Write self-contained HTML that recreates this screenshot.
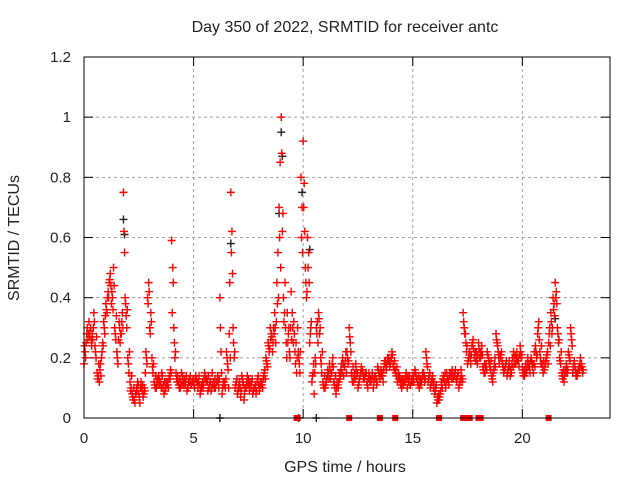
<!DOCTYPE html>
<html><head><meta charset="utf-8"><style>
body{margin:0;background:#fff}
svg text{font-family:"Liberation Sans",sans-serif;font-size:15px;fill:#222}
svg text.big{font-size:16px}
</style></head><body>
<svg id="chart" width="640" height="480" xmlns="http://www.w3.org/2000/svg">
<rect width="640" height="480" fill="#fff"/>
<text class="big" x="345" y="32" text-anchor="middle">Day 350 of 2022, SRMTID for receiver antc</text>
<text class="big" x="345" y="472" text-anchor="middle">GPS time / hours</text>
<text class="big" transform="translate(19,238) rotate(-90)" text-anchor="middle">SRMTID / TECUs</text>
<g id="grid"></g>
<g id="axes"></g>
<g id="marks"></g>
<rect x="84" y="57" width="526" height="361" fill="none" stroke="#000" stroke-width="1"/>
</svg>
<script>
const xTicks=[0,5,10,15,20];
const yTicks=[0,0.2,0.4,0.6,0.8,1,1.2];
const yTickLabels=["0","0.2","0.4","0.6","0.8","1","1.2"];
const mainValues=[.18,.25,.28,.30,.26,.24,.15,.12,.20,.32,
.38,.42,.48,.40,.30,.22,.32,.28,.75,.38,
.20,.12,.08,.06,.10,.08,.12,.07,.15,.40,
.30,.20,.12,.10,.14,.12,.10,.09,.12,.14,
.59,.30,.15,.12,.10,.14,.12,.09,.13,.11,
.12,.14,.10,.08,.12,.15,.13,.10,.09,.12,
.10,.14,.40,.08,.12,.22,.10,.75,.30,.10,
.08,.12,.14,.06,.10,.13,.11,.08,.10,.12,
.09,.12,.14,.20,.25,.30,.22,.35,.45,.70,
1.0,.40,.30,.25,.20,.35,.28,.15,.20,.80,
.92,.50,.60,.25,.12,.08,.30,.35,.20,.12,
.10,.14,.18,.15,.12,.08,.10,.14,.20,.17,
.22,.30,.15,.12,.18,.10,.14,.16,.13,.12,
.15,.12,.10,.14,.17,.13,.15,.18,.16,.20,
.19,.18,.16,.12,.14,.10,.13,.15,.12,.11,
.14,.16,.13,.10,.12,.15,.22,.12,.10,.14,
.08,.05,.06,.12,.14,.10,.13,.15,.16,.14,
.12,.10,.16,.35,.28,.18,.22,.24,.20,.22,
.25,.20,.17,.15,.22,.18,.14,.16,.28,.22,
.20,.18,.16,.14,.19,.15,.22,.18,.20,.24,
.17,.14,.16,.18,.20,.15,.24,.28,.22,.18,
.16,.20,.25,.35,.40,.45,.30,.20,.15,.12,
.18,.22,.30,.15,.17,.14,.16,.18];
const spreadValues=[.22,.30,.27,.24,.35,.20,.14,.18,.25,.28,
.35,.45,.38,.50,.26,.18,.25,.35,.55,.30,
.15,.10,.06,.08,.12,.05,.09,.10,.20,.45,
.35,.15,.10,.13,.11,.15,.08,.12,.10,.16,
.50,.20,.12,.10,.15,.11,.13,.10,.14,.12,
.10,.12,.14,.10,.11,.13,.09,.12,.15,.10,
.12,.10,.22,.12,.10,.18,.45,.62,.20,.12,
.10,.07,.12,.10,.14,.09,.12,.10,.08,.14,
.12,.10,.16,.18,.22,.28,.30,.25,.55,.85,
.62,.35,.20,.30,.42,.25,.18,.30,.15,.70,
.78,.40,.55,.30,.15,.20,.32,.28,.15,.10,
.12,.15,.13,.20,.10,.12,.15,.18,.14,.22,
.18,.25,.12,.15,.14,.12,.17,.13,.15,.10,
.12,.15,.13,.11,.15,.16,.12,.19,.20,.17,
.22,.16,.14,.15,.11,.13,.12,.10,.14,.13,
.12,.14,.11,.13,.15,.12,.18,.14,.12,.10,
.10,.06,.08,.10,.12,.15,.11,.14,.13,.16,
.14,.12,.12,.30,.22,.20,.18,.26,.22,.18,
.20,.24,.15,.18,.20,.16,.12,.20,.25,.18,
.22,.15,.18,.16,.14,.20,.18,.22,.17,.20,
.14,.18,.20,.15,.17,.22,.20,.32,.18,.15,
.18,.22,.30,.28,.38,.42,.25,.18,.13,.16,
.15,.20,.26,.18,.14,.16,.20,.15];
const thirdValues=[.24,.28,.32,.26,.30,.22,.13,.16,.22,.30,
.36,.40,.44,.36,.28,.20,.30,.32,.62,.34,
.18,.09,.07,.05,.09,.07,.10,.08,.22,.38,
.28,.17,.11,.12,.13,.10,.11,.10,.11,.13,
.35,.25,.13,.11,.12,.12,.11,.10,.12,.12,
.11,.13,.12,.09,.10,.14,.12,.11,.10,.11,
.11,.12,.30,.10,.11,.20,.28,.55,.25,.11,
.09,.10,.13,.08,.12,.11,.10,.09,.11,.13,
.10,.11,.15,.19,.24,.26,.25,.30,.38,.60,
.88,.32,.25,.28,.30,.30,.22,.20,.18,.60,
.70,.45,.50,.28,.14,.15,.28,.33,.18,.11,
.11,.16,.16,.18,.11,.10,.12,.16,.18,.19,
.20,.27,.14,.14,.16,.11,.15,.15,.14,.11,
.14,.13,.12,.13,.16,.15,.14,.19,.18,.19,
.20,.17,.15,.14,.12,.12,.12,.13,.13,.12,
.13,.15,.12,.12,.13,.14,.20,.13,.11,.12,
.09,.07,.07,.11,.13,.12,.12,.15,.15,.15,
.13,.11,.14,.32,.25,.19,.20,.25,.21,.20,
.23,.22,.16,.17,.21,.17,.13,.18,.26,.20,
.21,.17,.17,.15,.17,.18,.20,.20,.19,.22,
.15,.16,.18,.17,.19,.18,.22,.30,.20,.17,
.17,.21,.28,.32,.36,.40,.28,.19,.14,.14,
.17,.21,.28,.17,.16,.15,.18,.17];
const fourthValues=[.20,.26,.29,.28,.32,.27,.18,.14,.24,.34,
.40,.46,.42,.44,.34,.26,.28,.30,.40,.36,
.22,.14,.10,.08,.11,.10,.11,.09,.18,.42,
.32,.18,.14,.11,.12,.14,.12,.11,.13,.15,
.45,.22,.14,.13,.11,.13,.14,.12,.11,.13,
.13,.12,.11,.11,.13,.12,.14,.12,.11,.13,
.12,.13,.15,.11,.13,.16,.20,.48,.22,.13,
.11,.09,.11,.10,.11,.12,.13,.10,.09,.11,
.11,.13,.13,.17,.23,.27,.28,.32,.40,.50,
.68,.45,.35,.22,.26,.32,.25,.22,.22,.55,
.62,.42,.45,.32,.18,.18,.25,.30,.22,.14,
.13,.13,.15,.17,.14,.11,.13,.15,.17,.15,
.19,.22,.17,.13,.15,.13,.16,.14,.15,.13,
.13,.14,.14,.12,.14,.14,.16,.17,.19,.18,
.21,.19,.17,.13,.13,.11,.14,.14,.11,.12,
.15,.13,.14,.11,.14,.13,.17,.15,.13,.12,
.11,.08,.09,.13,.15,.13,.14,.13,.14,.13,
.15,.13,.13,.28,.24,.22,.21,.23,.19,.21,
.22,.21,.18,.16,.19,.19,.15,.17,.24,.21,
.19,.16,.19,.17,.16,.17,.21,.19,.21,.21,
.16,.15,.17,.19,.18,.17,.21,.26,.24,.19,
.19,.18,.24,.30,.34,.38,.26,.22,.16,.15,
.16,.19,.24,.19,.15,.17,.17,.16];
const blackTimes=[1.8,1.85,6.7,8.9,9.0,9.05,9.95,10.3,6.2,9.8,10.6,21.5];
const blackValues=[.66,.61,.58,.68,.95,.87,.75,.56,0,0,0,.33];
const zeroSquareTimes=[9.7,9.75,12.1,13.5,14.2,16.2,17.3,17.35,17.6,18.0,18.1,21.2];
const step=0.1;
const X=t=>84+t*526/24;
const Y=v=>418-v*361/1.2;
const NS="http://www.w3.org/2000/svg";
const grid=document.getElementById('grid'),axes=document.getElementById('axes'),marks=document.getElementById('marks');
function mk(tag,attrs,parent){const e=document.createElementNS(NS,tag);for(const k in attrs)e.setAttribute(k,attrs[k]);parent.appendChild(e);return e;}
xTicks.forEach(t=>{
 if(t>0){const g=mk('line',{x1:X(t),x2:X(t),y1:57,y2:418,stroke:'#a0a0a0','stroke-dasharray':'3,3'},grid);
 
 }
 mk('line',{x1:X(t),x2:X(t),y1:418,y2:409,stroke:'#000'},axes);
 mk('line',{x1:X(t),x2:X(t),y1:57,y2:66,stroke:'#000'},axes);
 const tx=mk('text',{x:X(t),y:443,'text-anchor':'middle'},axes);tx.textContent=t;
 
 
});
yTicks.forEach((v,i)=>{
 if(v>0&&v<1.2){const g=mk('line',{x1:84,x2:610,y1:Y(v),y2:Y(v),stroke:'#a0a0a0','stroke-dasharray':'3,3'},grid);
 
 }
 mk('line',{x1:84,x2:93,y1:Y(v),y2:Y(v),stroke:'#000'},axes);
 mk('line',{x1:601,x2:610,y1:Y(v),y2:Y(v),stroke:'#000'},axes);
 const tx=mk('text',{x:71,y:Y(v)+5,'text-anchor':'end'},axes);tx.textContent=yTickLabels[i];
 
 
});
function plus(t,v,color){
 const x=X(t),y=Y(v);
 const p=mk('path',{d:`M${x-4},${y}H${x+4}M${x},${y-4}V${y+4}`,stroke:color,'stroke-width':1.4,fill:'none'},marks);
 
 
}
blackTimes.forEach((t,i)=>plus(t,blackValues[i],'#222'));
mainValues.forEach((v,i)=>plus(i*step,v,'#f00'));
thirdValues.forEach((v,i)=>plus(i*step+step*0.25,v,'#f00'));
spreadValues.forEach((v,i)=>plus(i*step+step*0.5,v,'#f00'));
fourthValues.forEach((v,i)=>plus(i*step+step*0.75,v,'#f00'));
zeroSquareTimes.forEach(t=>{
 const r=mk('rect',{x:X(t)-3,y:415,width:6,height:6,fill:'#f00'},marks);
 
 
});
</script>
</body></html>
